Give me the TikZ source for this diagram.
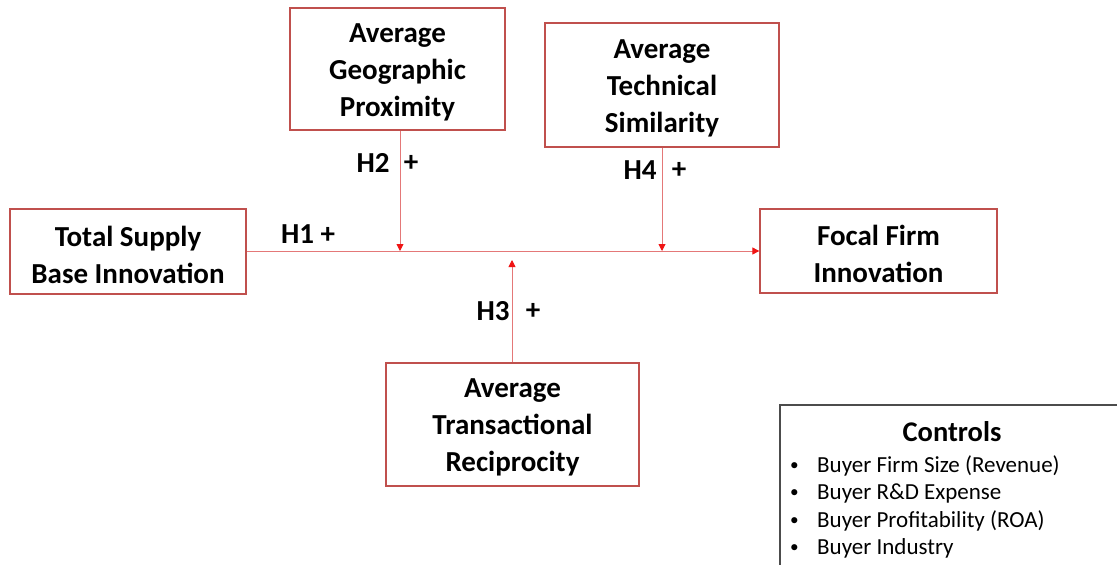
\documentclass[tikz,border=0pt]{standalone}
\usepackage{fontspec}
\setmainfont{Carlito}
\usetikzlibrary{arrows.meta}
\definecolor{boxred}{RGB}{192,80,77}
\definecolor{linered}{RGB}{228,120,120}
\definecolor{tipred}{RGB}{240,20,20}
\newcommand{\smallbul}{\makebox[27pt][l]{\raisebox{2pt}{\scalebox{0.75}{•}}}}
\tikzset{
  box/.style={draw=boxred, line width=1.3pt, fill=white, inner sep=0pt},
  boxtext/.style={align=center, inner sep=0pt, yshift=-3pt,
    font=\fontsize{29}{37}\selectfont\bfseries},
  conn/.style={draw=linered, line width=0.9pt, -{Triangle[length=7pt,width=7pt,fill=tipred,color=tipred]}},
  hlab/.style={font=\fontsize{29}{35}\selectfont\bfseries, inner sep=0pt},
  ctrl/.style={font=\fontsize{23}{27.5}\selectfont, inner sep=0pt, anchor=base west}
}
\begin{document}
\begin{tikzpicture}[x=1pt,y=-1pt]
\useasboundingbox (0,0) rectangle (1117,565);
\fill[white] (0,0) rectangle (1117,565);
\node[box, minimum width=215pt, minimum height=122pt] (geo) at (397.5,69) {};
\node[boxtext] (geot) at (geo.center) {Average\\Geographic\\Proximity};
\node[box, minimum width=234pt, minimum height=124pt] (tech) at (662,85) {};
\node[boxtext] (techt) at (tech.center) {Average\\Technical\\Similarity};
\node[box, minimum width=236pt, minimum height=85pt] (total) at (128,251.5) {};
\node[boxtext] (totalt) at (total.center) {Total Supply\\Base Innovation};
\node[box, minimum width=237pt, minimum height=84pt] (focal) at (878.5,251) {};
\node[boxtext] (focalt) at (focal.center) {Focal Firm\\Innovation};
\node[box, minimum width=253pt, minimum height=123pt] (trans) at (512.5,424.5) {};
\node[boxtext] (transt) at (trans.center) {Average\\Transactional\\Reciprocity};
% controls box
\draw[draw=black!70, line width=1.2pt] (1125,405) -- (780,405) -- (780,575);
\node[font=\fontsize{28.5}{34}\selectfont\bfseries, inner sep=0pt] (ctitle) at (952,432) {Controls};
\node[ctrl] (b1) at (790,472) {\smallbul Buyer Firm Size (Revenue)};
\node[ctrl] (b2) at (790,499.5) {\smallbul Buyer R\&D Expense};
\node[ctrl] (b3) at (790,527) {\smallbul Buyer Profitability (ROA)};
\node[ctrl] (b4) at (790,554.5) {\smallbul Buyer Industry};
% connectors
\coordinate (h2end) at (400,251);
\coordinate (h4end) at (662,251);
\coordinate (h3end) at (512,260);
\draw[conn] (total.east |- 0,251) -- (focal.west |- 0,251);
\draw[conn] (geo.south -| h2end) -- (h2end);
\draw[conn] (tech.south -| h4end) -- (h4end);
\draw[conn] (trans.north -| h3end) -- (h3end);
% labels
\node[hlab] (l1) at (308,234) {H1 +};
\node[hlab] (l2a) at (373,163) {H2};
\node[hlab] (l2b) at (411,163) {+};
\node[hlab] (l4a) at (640,170) {H4};
\node[hlab] (l4b) at (679,170) {+};
\node[hlab] (l3a) at (493,311) {H3};
\node[hlab] (l3b) at (533,311) {+};
\end{tikzpicture}
\end{document}
